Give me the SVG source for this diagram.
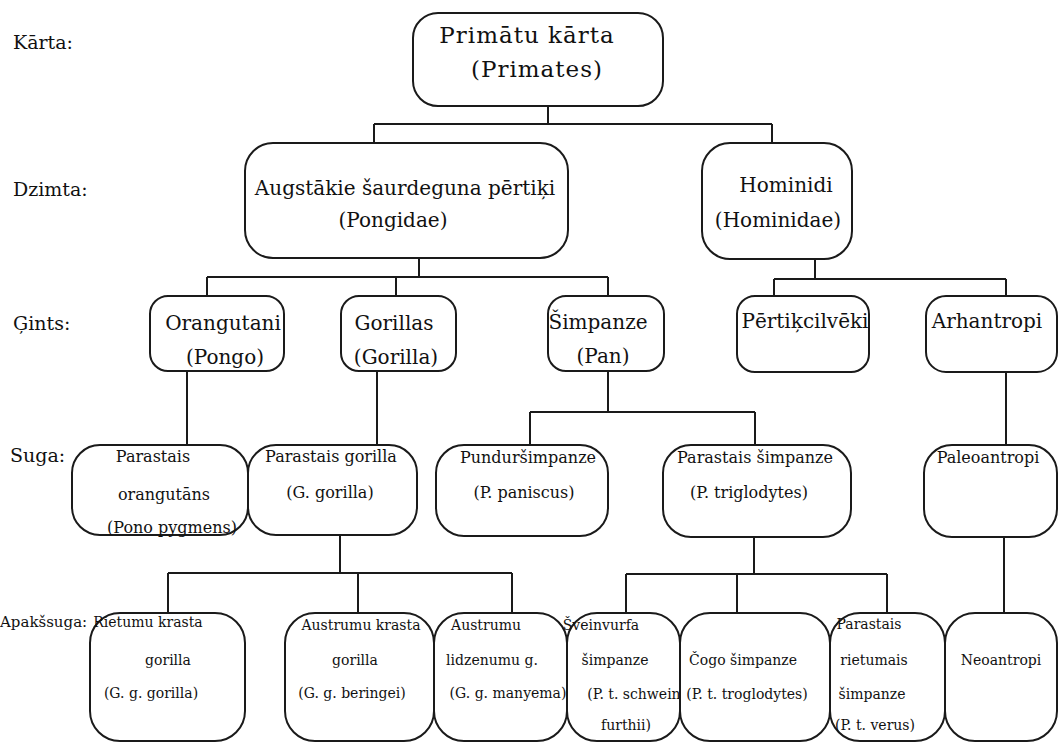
<svg xmlns="http://www.w3.org/2000/svg" width="1059" height="743" viewBox="0 0 1059 743">
<style>
text{font-family:"DejaVu Serif","Liberation Serif",serif;fill:#111;text-anchor:middle}
.lbl{font-size:19px;text-anchor:start}
.lbs{font-size:15px;text-anchor:start}
.t0{font-size:23px;letter-spacing:1px}
.t1{font-size:20px}
.t2{font-size:20px}
.t3{font-size:16px}
.t4{font-size:14px}
rect{fill:none;stroke:#1a1a1a;stroke-width:2}
#connectors path{fill:none;stroke:#1a1a1a;stroke-width:2}
</style>
<rect x="0" y="0" width="1059" height="743" style="fill:#fff;stroke:none"/>
<g id="labels">
<text class="lbl" x="13" y="49">Kārta:</text>
<text class="lbl" x="13" y="196">Dzimta:</text>
<text class="lbl" x="13" y="330">Ģints:</text>
<text class="lbl" x="10" y="462">Suga:</text>
<text class="lbs" x="0" y="627">Apakšsuga:</text>
</g>
<g id="connectors">
<path d="M548 106V124M374 124H772M374 124V143M772 124V143"/>
<path d="M419 258V277M207 277H608M207 277V296M396 277V296M608 277V296"/>
<path d="M815 259V279M774 279H1006M774 279V296M1006 279V296"/>
<path d="M187 371V445M377 371V445"/>
<path d="M608 371V412M530 412H755M530 412V445M755 412V445"/>
<path d="M1006 372V445"/>
<path d="M340 535V573M168 573H512M168 573V613M358 573V613M512 573V613"/>
<path d="M754 537V574M626 574H887M626 574V613M737 574V613M887 574V613"/>
<path d="M1004 537V613"/>
</g>
<g id="n-primates">
<rect x="413" y="13" width="250" height="93" rx="25"/>
<text class="t0" x="527" y="43">Primātu kārta</text>
<text class="t0" x="537" y="77">(Primates)</text>
</g>
<g id="n-pongidae">
<rect x="245" y="143" width="323" height="115" rx="28"/>
<text class="t1" x="405" y="195">Augstākie šaurdeguna pērtiķi</text>
<text class="t1" x="393" y="227">(Pongidae)</text>
</g>
<g id="n-hominidae">
<rect x="702" y="143" width="150" height="116" rx="28"/>
<text class="t1" x="786" y="192">Hominidi</text>
<text class="t1" x="778" y="227">(Hominidae)</text>
</g>
<g id="n-pongo">
<rect x="150" y="296" width="134" height="75" rx="18"/>
<text class="t2" x="223" y="330">Orangutani</text>
<text class="t2" x="225" y="364">(Pongo)</text>
</g>
<g id="n-gorilla">
<rect x="341" y="296" width="115" height="75" rx="18"/>
<text class="t2" x="394" y="330">Gorillas</text>
<text class="t2" x="396" y="364">(Gorilla)</text>
</g>
<g id="n-pan">
<rect x="548" y="296" width="116" height="75" rx="18"/>
<text class="t2" x="598" y="329">Šimpanze</text>
<text class="t2" x="603" y="363">(Pan)</text>
</g>
<g id="n-pertikcilveki">
<rect x="737" y="296" width="132" height="76" rx="18"/>
<text class="t2" x="805" y="328">Pērtiķcilvēki</text>
</g>
<g id="n-arhantropi">
<rect x="926" y="296" width="131" height="76" rx="20"/>
<text class="t2" x="987" y="328">Arhantropi</text>
</g>
<g id="n-orangutans">
<rect x="72" y="445" width="176" height="90" rx="28"/>
<text class="t3" x="153" y="462">Parastais</text>
<text class="t3" x="164" y="500">orangutāns</text>
<text class="t3" x="172" y="533">(Pono pygmens)</text>
</g>
<g id="n-g-gorilla">
<rect x="248" y="445" width="169" height="90" rx="28"/>
<text class="t3" x="331" y="462">Parastais gorilla</text>
<text class="t3" x="330" y="498">(G. gorilla)</text>
</g>
<g id="n-paniscus">
<rect x="436" y="445" width="172" height="91" rx="28"/>
<text class="t3" x="528" y="463">Punduršimpanze</text>
<text class="t3" x="524" y="498">(P. paniscus)</text>
</g>
<g id="n-triglodytes">
<rect x="663" y="445" width="188" height="92" rx="28"/>
<text class="t3" x="755" y="463">Parastais šimpanze</text>
<text class="t3" x="749" y="498">(P. triglodytes)</text>
</g>
<g id="n-paleoantropi">
<rect x="924" y="445" width="133" height="92" rx="28"/>
<text class="t3" x="988" y="463">Paleoantropi</text>
</g>
<g id="n-gg-gorilla">
<rect x="90" y="613" width="155" height="128" rx="30"/>
<text class="t4" x="148" y="627">Rietumu krasta</text>
<text class="t4" x="168" y="665">gorilla</text>
<text class="t4" x="151" y="698">(G. g. gorilla)</text>
</g>
<g id="n-gg-beringei">
<rect x="285" y="613" width="149" height="128" rx="30"/>
<text class="t4" x="361" y="630">Austrumu krasta</text>
<text class="t4" x="355" y="665">gorilla</text>
<text class="t4" x="352" y="698">(G. g. beringei)</text>
</g>
<g id="n-gg-manyema">
<rect x="434" y="613" width="133" height="128" rx="30"/>
<text class="t4" x="486" y="630">Austrumu</text>
<text class="t4" x="492" y="665">lidzenumu g.</text>
<text class="t4" x="508" y="698">(G. g. manyema)</text>
</g>
<g id="n-pt-schweinfurthii">
<rect x="567" y="613" width="113" height="128" rx="30"/>
<text class="t4" x="601" y="630">Šveinvurfa</text>
<text class="t4" x="615" y="665">šimpanze</text>
<text class="t4" x="634" y="699">(P. t. schwein</text>
<text class="t4" x="626" y="730">furthii)</text>
</g>
<g id="n-pt-troglodytes">
<rect x="680" y="613" width="150" height="128" rx="30"/>
<text class="t4" x="743" y="665">Čogo šimpanze</text>
<text class="t4" x="747" y="699">(P. t. troglodytes)</text>
</g>
<g id="n-pt-verus">
<rect x="830" y="613" width="115" height="128" rx="30"/>
<text class="t4" x="869" y="629">Parastais</text>
<text class="t4" x="874" y="665">rietumais</text>
<text class="t4" x="872" y="699">šimpanze</text>
<text class="t4" x="875" y="730">(P. t. verus)</text>
</g>
<g id="n-neoantropi">
<rect x="945" y="613" width="112" height="128" rx="30"/>
<text class="t4" x="1001" y="665">Neoantropi</text>
</g>
</svg>
